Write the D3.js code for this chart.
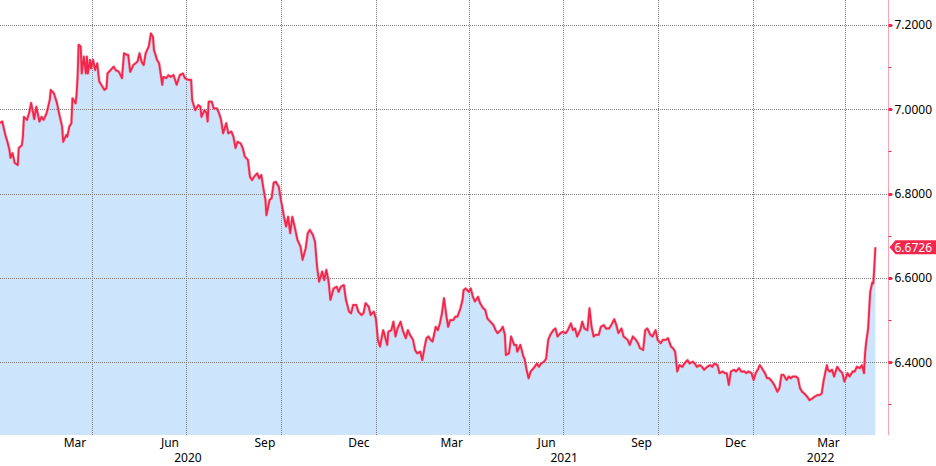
<!DOCTYPE html>
<html>
<head>
<meta charset="utf-8">
<script src="https://cdn.jsdelivr.net/npm/d3@7"></script>
<style>
  html, body { margin: 0; padding: 0; background: #fff; }
  svg { display: block; }
  text { font-family: "Noto Sans", "DejaVu Sans", sans-serif; }
</style>
</head>
<body>
<svg id="chart" width="936" height="466"></svg>
<script>
// ---- data (USD/CNH) ----
const rateSeries = [
["2020-01-02",6.967],["2020-01-05",6.971],["2020-01-08",6.939],["2020-01-10",6.923],["2020-01-12",6.903],
["2020-01-13",6.885],["2020-01-15",6.896],["2020-01-17",6.873],["2020-01-20",6.868],["2020-01-21",6.908],
["2020-01-24",6.915],["2020-01-25",6.935],["2020-01-26",6.982],["2020-01-29",6.975],["2020-01-31",6.991],
["2020-02-02",7.015],["2020-02-05",6.977],["2020-02-07",7.006],["2020-02-10",6.971],["2020-02-12",6.982],
["2020-02-14",6.975],["2020-02-17",6.991],["2020-02-20",7.022],["2020-02-21",7.046],["2020-02-24",7.038],
["2020-02-27",7.015],["2020-02-29",6.991],["2020-03-03",6.959],["2020-03-04",6.923],["2020-03-07",6.939],
["2020-03-08",6.935],["2020-03-10",6.959],["2020-03-12",6.967],["2020-03-13",7.026],["2020-03-16",7.014],
["2020-03-17",7.034],["2020-03-18",7.077],["2020-03-19",7.153],["2020-03-21",7.149],["2020-03-22",7.085],
["2020-03-24",7.125],["2020-03-26",7.085],["2020-03-27",7.125],["2020-03-28",7.085],["2020-03-30",7.117],
["2020-03-31",7.097],["2020-04-02",7.117],["2020-04-04",7.093],["2020-04-06",7.109],["2020-04-08",7.066],
["2020-04-10",7.058],["2020-04-13",7.046],["2020-04-15",7.050],["2020-04-16",7.085],["2020-04-19",7.093],
["2020-04-22",7.101],["2020-04-24",7.093],["2020-04-27",7.089],["2020-04-30",7.074],["2020-05-02",7.133],
["2020-05-05",7.129],["2020-05-06",7.129],["2020-05-08",7.089],["2020-05-11",7.105],["2020-05-13",7.109],
["2020-05-15",7.113],["2020-05-17",7.133],["2020-05-19",7.113],["2020-05-21",7.105],["2020-05-23",7.133],
["2020-05-26",7.149],["2020-05-28",7.180],["2020-05-30",7.172],["2020-05-31",7.141],["2020-06-03",7.117],
["2020-06-05",7.109],["2020-06-08",7.058],["2020-06-09",7.077],["2020-06-12",7.074],["2020-06-14",7.081],
["2020-06-16",7.077],["2020-06-19",7.081],["2020-06-22",7.058],["2020-06-25",7.081],["2020-06-28",7.085],
["2020-06-30",7.074],["2020-07-03",7.070],["2020-07-06",7.070],["2020-07-07",7.022],["2020-07-10",6.998],
["2020-07-13",7.010],["2020-07-15",7.006],["2020-07-16",6.982],["2020-07-19",6.998],["2020-07-21",6.991],
["2020-07-22",6.971],["2020-07-23",7.018],["2020-07-26",7.018],["2020-07-28",7.002],["2020-07-31",7.002],
["2020-08-02",6.991],["2020-08-04",6.975],["2020-08-06",6.943],["2020-08-09",6.967],["2020-08-11",6.943],
["2020-08-14",6.947],["2020-08-16",6.935],["2020-08-18",6.908],["2020-08-20",6.923],["2020-08-23",6.919],
["2020-08-25",6.908],["2020-08-27",6.888],["2020-08-30",6.880],["2020-09-01",6.840],["2020-09-03",6.832],
["2020-09-05",6.840],["2020-09-08",6.848],["2020-09-10",6.836],["2020-09-12",6.844],["2020-09-14",6.813],
["2020-09-16",6.785],["2020-09-17",6.749],["2020-09-20",6.785],["2020-09-22",6.789],["2020-09-24",6.826],
["2020-09-26",6.828],["2020-09-29",6.816],["2020-10-01",6.785],["2020-10-04",6.745],["2020-10-06",6.722],
["2020-10-08",6.745],["2020-10-10",6.706],["2020-10-12",6.745],["2020-10-15",6.714],["2020-10-17",6.690],
["2020-10-20",6.674],["2020-10-22",6.643],["2020-10-25",6.670],["2020-10-27",6.706],["2020-10-29",6.714],
["2020-11-01",6.702],["2020-11-03",6.686],["2020-11-05",6.627],["2020-11-07",6.591],["2020-11-10",6.615],
["2020-11-12",6.595],["2020-11-14",6.619],["2020-11-16",6.595],["2020-11-18",6.548],["2020-11-21",6.575],
["2020-11-24",6.579],["2020-11-26",6.567],["2020-11-28",6.579],["2020-12-01",6.583],["2020-12-03",6.548],
["2020-12-06",6.520],["2020-12-08",6.516],["2020-12-10",6.536],["2020-12-13",6.536],["2020-12-15",6.520],
["2020-12-18",6.512],["2020-12-20",6.516],["2020-12-22",6.540],["2020-12-25",6.532],["2020-12-27",6.512],
["2020-12-30",6.520],["2021-01-01",6.504],["2021-01-03",6.453],["2021-01-05",6.437],["2021-01-08",6.476],
["2021-01-09",6.469],["2021-01-12",6.441],["2021-01-13",6.472],["2021-01-16",6.476],["2021-01-18",6.496],
["2021-01-20",6.461],["2021-01-22",6.480],["2021-01-25",6.496],["2021-01-27",6.476],["2021-01-30",6.457],
["2021-02-01",6.476],["2021-02-03",6.465],["2021-02-06",6.453],["2021-02-08",6.429],["2021-02-10",6.421],
["2021-02-13",6.425],["2021-02-15",6.405],["2021-02-17",6.433],["2021-02-19",6.457],["2021-02-21",6.461],
["2021-02-23",6.453],["2021-02-25",6.449],["2021-02-28",6.484],["2021-03-02",6.476],["2021-03-04",6.492],
["2021-03-06",6.516],["2021-03-08",6.552],["2021-03-10",6.516],["2021-03-12",6.484],["2021-03-14",6.500],
["2021-03-17",6.500],["2021-03-19",6.508],["2021-03-21",6.508],["2021-03-24",6.528],["2021-03-26",6.548],
["2021-03-27",6.571],["2021-03-29",6.575],["2021-04-01",6.567],["2021-04-03",6.575],["2021-04-05",6.555],
["2021-04-07",6.544],["2021-04-10",6.555],["2021-04-12",6.540],["2021-04-15",6.528],["2021-04-17",6.524],
["2021-04-19",6.504],["2021-04-22",6.496],["2021-04-25",6.488],["2021-04-27",6.476],["2021-04-29",6.469],
["2021-05-02",6.476],["2021-05-04",6.484],["2021-05-06",6.465],["2021-05-07",6.417],["2021-05-10",6.421],
["2021-05-12",6.461],["2021-05-15",6.441],["2021-05-17",6.441],["2021-05-18",6.425],["2021-05-21",6.441],
["2021-05-24",6.413],["2021-05-25",6.409],["2021-05-27",6.382],["2021-05-29",6.362],["2021-05-31",6.378],
["2021-06-03",6.386],["2021-06-06",6.397],["2021-06-08",6.389],["2021-06-10",6.397],["2021-06-13",6.401],
["2021-06-15",6.409],["2021-06-17",6.453],["2021-06-19",6.465],["2021-06-22",6.476],["2021-06-24",6.480],
["2021-06-26",6.461],["2021-06-29",6.469],["2021-07-01",6.472],["2021-07-04",6.469],["2021-07-06",6.476],
["2021-07-09",6.492],["2021-07-11",6.476],["2021-07-13",6.480],["2021-07-15",6.461],["2021-07-18",6.476],
["2021-07-20",6.496],["2021-07-22",6.480],["2021-07-25",6.476],["2021-07-27",6.528],["2021-07-29",6.484],
["2021-07-31",6.461],["2021-08-02",6.465],["2021-08-05",6.465],["2021-08-07",6.484],["2021-08-10",6.488],
["2021-08-12",6.480],["2021-08-15",6.480],["2021-08-17",6.488],["2021-08-20",6.502],["2021-08-22",6.488],
["2021-08-24",6.469],["2021-08-27",6.480],["2021-08-29",6.461],["2021-09-02",6.453],["2021-09-04",6.441],
["2021-09-07",6.461],["2021-09-10",6.453],["2021-09-12",6.445],["2021-09-14",6.433],["2021-09-17",6.429],
["2021-09-19",6.476],["2021-09-21",6.480],["2021-09-24",6.465],["2021-09-26",6.461],["2021-09-29",6.476],
["2021-10-01",6.453],["2021-10-04",6.445],["2021-10-06",6.453],["2021-10-09",6.453],["2021-10-11",6.457],
["2021-10-14",6.437],["2021-10-16",6.433],["2021-10-18",6.425],["2021-10-20",6.378],["2021-10-22",6.393],
["2021-10-25",6.389],["2021-10-27",6.397],["2021-10-30",6.405],["2021-11-01",6.397],["2021-11-04",6.401],
["2021-11-06",6.397],["2021-11-08",6.389],["2021-11-11",6.393],["2021-11-13",6.389],["2021-11-15",6.382],
["2021-11-18",6.389],["2021-11-21",6.393],["2021-11-23",6.389],["2021-11-25",6.397],["2021-11-28",6.393],
["2021-11-30",6.374],["2021-12-03",6.378],["2021-12-05",6.374],["2021-12-07",6.374],["2021-12-09",6.346],
["2021-12-11",6.378],["2021-12-14",6.382],["2021-12-16",6.378],["2021-12-19",6.386],["2021-12-21",6.378],
["2021-12-24",6.378],["2021-12-26",6.374],["2021-12-28",6.378],["2021-12-31",6.374],["2022-01-02",6.358],
["2022-01-04",6.374],["2022-01-06",6.382],["2022-01-08",6.393],["2022-01-10",6.386],["2022-01-13",6.374],
["2022-01-15",6.362],["2022-01-17",6.362],["2022-01-20",6.354],["2022-01-22",6.346],["2022-01-25",6.330],
["2022-01-27",6.338],["2022-01-29",6.370],["2022-01-31",6.370],["2022-02-03",6.358],["2022-02-05",6.366],
["2022-02-07",6.362],["2022-02-09",6.366],["2022-02-12",6.366],["2022-02-14",6.362],["2022-02-16",6.338],
["2022-02-18",6.330],["2022-02-20",6.326],["2022-02-23",6.318],["2022-02-25",6.310],["2022-02-28",6.314],
["2022-03-02",6.318],["2022-03-05",6.322],["2022-03-07",6.322],["2022-03-09",6.326],["2022-03-11",6.358],
["2022-03-14",6.393],["2022-03-15",6.382],["2022-03-17",6.378],["2022-03-19",6.382],["2022-03-21",6.366],
["2022-03-24",6.389],["2022-03-26",6.382],["2022-03-29",6.374],["2022-03-31",6.354],["2022-04-03",6.374],
["2022-04-05",6.366],["2022-04-08",6.378],["2022-04-10",6.378],["2022-04-12",6.389],["2022-04-15",6.386],
["2022-04-17",6.393],["2022-04-19",6.374],["2022-04-20",6.421],["2022-04-21",6.445],["2022-04-23",6.480],
["2022-04-24",6.524],["2022-04-25",6.567],["2022-04-27",6.589],["2022-04-28",6.587],["2022-04-29",6.627],
["2022-04-30",6.6726]
];
const lastValue = 6.6726;
const yTicksMajor = [6.4, 6.6, 6.8, 7.0, 7.2];
const yTicksMinor = [6.3, 6.5, 6.7, 6.9, 7.1];
const gridDates = ["2020-04-01","2020-07-01","2020-10-01","2021-01-01","2021-04-01","2021-07-01","2021-10-01","2022-01-01","2022-04-01"];
const monthLabelDates = ["2020-03-15","2020-06-15","2020-09-15","2020-12-15","2021-03-15","2021-06-15","2021-09-15","2021-12-15","2022-03-15"];
const yearLabels = ["2020","2021","2022"];

// ---- layout ----
const W = 936, H = 466;
const plot = { left: 0, right: 888.5, top: 0, bottom: 435 };
const FONT = "'Noto Sans', 'DejaVu Sans', sans-serif";
const FS = "12px";
const parse = d3.timeParse("%Y-%m-%d");
const data = rateSeries.map(([d, v]) => ({ date: parse(d), value: v }));

const x = d3.scaleTime()
  .domain([new Date(2020, 0, 2, 19, 26), new Date(2022, 4, 12, 17, 0)])
  .range([plot.left, plot.right]);
const y = d3.scaleLinear()
  .domain([6.2273, 7.2593])
  .range([plot.bottom, plot.top]);

const svg = d3.select("#chart");
const red = "#f2264b";
const gridColor = "#7d7d7d";

// area fill
svg.append("path")
  .datum(data)
  .attr("fill", "#cce4fc")
  .attr("d", d3.area().x(d => x(d.date)).y0(plot.bottom).y1(d => y(d.value)));

// vertical gridlines
svg.append("g").selectAll("line").data(gridDates.map(parse)).join("line")
  .attr("x1", d => Math.round(x(d)) + 0.5).attr("x2", d => Math.round(x(d)) + 0.5)
  .attr("y1", plot.top).attr("y2", plot.bottom)
  .attr("stroke", gridColor).attr("stroke-width", 1).attr("stroke-dasharray", "1,1");

// horizontal gridlines
svg.append("g").selectAll("line").data(yTicksMajor).join("line")
  .attr("x1", plot.left).attr("x2", plot.right)
  .attr("y1", d => Math.round(y(d)) + 0.5).attr("y2", d => Math.round(y(d)) + 0.5)
  .attr("stroke", gridColor).attr("stroke-width", 1).attr("stroke-dasharray", "1,1");

// line (soft halo + core)
const lineGen = d3.line().x(d => x(d.date)).y(d => y(d.value));
svg.append("path")
  .datum(data)
  .attr("fill", "none")
  .attr("stroke", "#f7879b")
  .attr("stroke-opacity", 0.6)
  .attr("stroke-width", 3)
  .attr("stroke-linejoin", "round")
  .attr("d", lineGen);
svg.append("path")
  .datum(data)
  .attr("fill", "none")
  .attr("stroke", red)
  .attr("stroke-width", 1.8)
  .attr("stroke-linejoin", "round")
  .attr("d", lineGen);

// right axis
const ax = svg.append("g").attr("transform", `translate(${plot.right},0)`)
  .call(d3.axisRight(y).tickValues(yTicksMajor).tickFormat(d3.format(".4f")).tickSize(0).tickPadding(6));
ax.select(".domain").remove();
ax.selectAll("text").attr("font-size", FS).attr("fill", "#000").attr("font-family", FONT);
svg.append("line")
  .attr("x1", plot.right).attr("x2", plot.right).attr("y1", plot.top).attr("y2", plot.bottom)
  .attr("stroke", "#ffa3b1").attr("stroke-width", 1);
// major tick markers (small arrows)
svg.append("g").selectAll("path").data(yTicksMajor).join("path")
  .attr("d", d => { const yy = Math.round(y(d)) + 0.5; return `M${plot.right},${yy - 1.5}L${plot.right + 3},${yy - 1.5}L${plot.right + 4.5},${yy}L${plot.right + 3},${yy + 1.5}L${plot.right},${yy + 1.5}Z`; })
  .attr("fill", red);
// minor ticks
svg.append("g").selectAll("line").data(yTicksMinor).join("line")
  .attr("x1", plot.right).attr("x2", plot.right + 3)
  .attr("y1", d => Math.round(y(d)) + 0.5).attr("y2", d => Math.round(y(d)) + 0.5)
  .attr("stroke", red).attr("stroke-width", 1);

// last value tag
const ly = y(lastValue);
const tag = svg.append("g");
tag.append("path")
  .attr("d", `M${plot.right + 1},${ly}L${plot.right + 7},${ly - 7}L${W},${ly - 7}L${W},${ly + 7}L${plot.right + 7},${ly + 7}Z`)
  .attr("fill", red);
tag.append("text")
  .attr("x", plot.right + 6).attr("y", ly).attr("dy", "0.36em")
  .attr("font-size", FS).attr("fill", "#fff").attr("font-family", FONT)
  .text(d3.format(".4f")(lastValue));

// bottom month labels
const bx = svg.append("g").attr("transform", `translate(0,${plot.bottom})`)
  .call(d3.axisBottom(x).tickValues(monthLabelDates.map(parse)).tickFormat(d3.timeFormat("%b")).tickSize(0).tickPadding(3));
bx.select(".domain").remove();
bx.selectAll("text").attr("font-size", FS).attr("fill", "#000").attr("font-family", FONT);

// year labels centered on the visible span of each year
const [d0, d1] = x.domain();
svg.append("g").selectAll("text").data(yearLabels).join("text")
  .attr("x", yr => {
    const s = new Date(+yr, 0, 1), e = new Date(+yr + 1, 0, 1);
    const a = s < d0 ? d0 : s, b = e > d1 ? d1 : e;
    return (x(a) + x(b)) / 2;
  })
  .attr("y", 462)
  .attr("text-anchor", "middle")
  .attr("font-size", FS).attr("fill", "#000").attr("font-family", FONT)
  .text(d => d);
</script>
</body>
</html>
